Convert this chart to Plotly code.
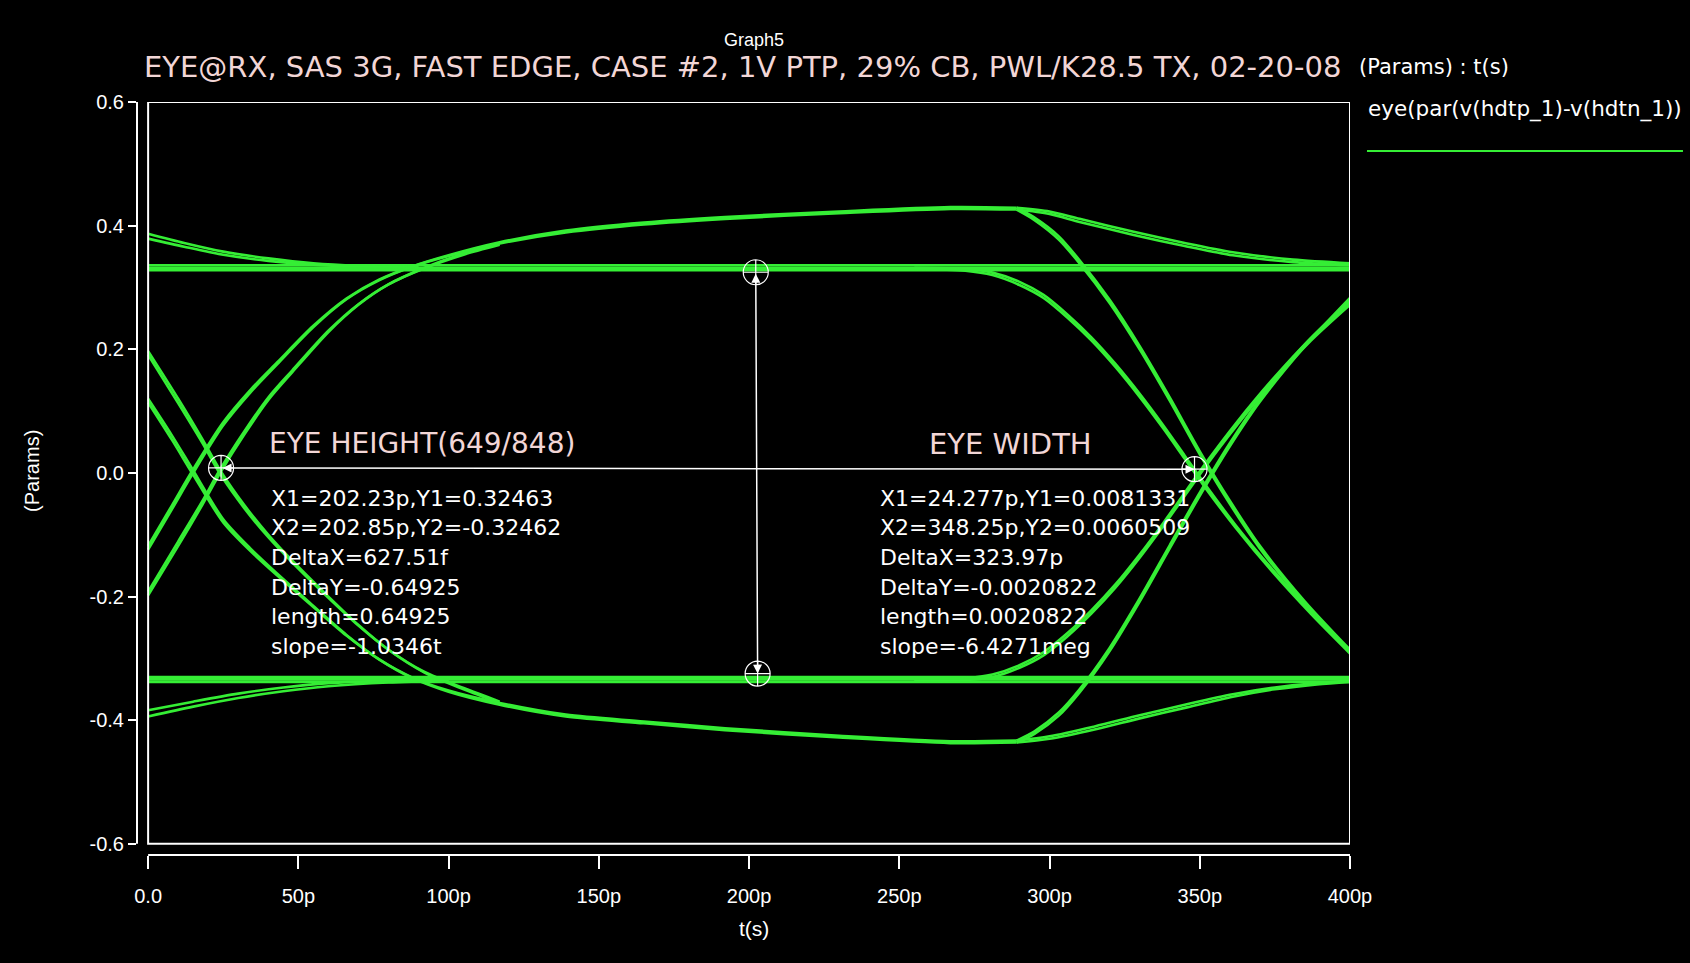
import plotly.graph_objects as go

# ---- data (t in ps, v in volts) ----
t_flat = [0, 400]
v_high_flat_a = [0.336, 0.336]
v_high_flat_b = [0.332, 0.332]
v_high_flat_c = [0.328, 0.328]
v_low_flat_a = [-0.330, -0.330]
v_low_flat_b = [-0.334, -0.334]
v_low_flat_c = [-0.338, -0.338]

t_high_decay = [0, 12, 25, 40, 55, 70, 90]
v_high_decay_a = [0.387, 0.372, 0.358, 0.347, 0.339, 0.335, 0.333]
v_high_decay_b = [0.379, 0.366, 0.353, 0.343, 0.337, 0.334, 0.332]

t_low_decay = [0, 15, 30, 45, 60, 80, 100]
v_low_decay_a = [-0.384, -0.370, -0.357, -0.347, -0.340, -0.336, -0.334]
v_low_decay_b = [-0.394, -0.378, -0.364, -0.353, -0.345, -0.339, -0.336]

t_edge_early = [0, 8, 15, 25, 34, 43, 55, 66, 77, 88, 100, 117, 139, 165, 192, 230, 267, 289]
v_rise_early_a = [-0.124, -0.058, 0.0, 0.077, 0.130, 0.176, 0.236, 0.281, 0.312, 0.334, 0.352,
                  0.373, 0.392, 0.405, 0.414, 0.423, 0.430, 0.429]
v_rise_early_b = [-0.118, -0.052, 0.006, 0.082, 0.134, 0.179, 0.238, 0.282, 0.313, 0.334, 0.351,
                  0.371, 0.389, 0.402, 0.411, 0.420, 0.427, 0.426]
v_fall_early_a = [0.120, 0.060, 0.004, -0.075, -0.122, -0.163, -0.215, -0.262, -0.302, -0.332, -0.354,
                  -0.375, -0.394, -0.405, -0.416, -0.428, -0.437, -0.436]
v_fall_early_b = [0.114, 0.053, -0.003, -0.080, -0.126, -0.166, -0.217, -0.263, -0.302, -0.331, -0.352,
                  -0.372, -0.391, -0.402, -0.413, -0.425, -0.434, -0.433]

t_edge_late = [0, 10, 18, 24, 32, 40, 48, 60, 70, 80, 92, 105, 117]
v_rise_late_a = [-0.198, -0.118, -0.052, 0.0, 0.062, 0.118, 0.163, 0.228, 0.272, 0.305, 0.332, 0.355, 0.371]
v_rise_late_b = [-0.192, -0.111, -0.046, 0.006, 0.067, 0.122, 0.166, 0.230, 0.273, 0.305, 0.331, 0.353, 0.369]
v_fall_late_a = [0.197, 0.120, 0.055, 0.004, -0.052, -0.100, -0.142, -0.200, -0.246, -0.286, -0.323, -0.350, -0.372]
v_fall_late_b = [0.191, 0.113, 0.049, -0.002, -0.057, -0.104, -0.145, -0.202, -0.247, -0.286, -0.322, -0.348, -0.370]

t_stay_high = [289, 300, 310, 328, 345, 361, 381, 400]
v_stay_high_a = [0.429, 0.423, 0.411, 0.390, 0.372, 0.357, 0.345, 0.339]
v_stay_high_b = [0.426, 0.419, 0.406, 0.385, 0.367, 0.352, 0.341, 0.336]

t_stay_low = [289, 300, 315, 330, 345, 361, 375, 389, 400]
v_stay_low_a = [-0.436, -0.430, -0.415, -0.397, -0.380, -0.362, -0.350, -0.342, -0.338]
v_stay_low_b = [-0.433, -0.426, -0.410, -0.392, -0.375, -0.358, -0.347, -0.340, -0.336]

t_steep = [289, 295, 303, 310, 320, 330, 340, 350, 360, 370, 385, 400]
v_fall_steep_a = [0.429, 0.413, 0.383, 0.344, 0.280, 0.205, 0.122, 0.035, -0.045, -0.118, -0.208, -0.286]
v_fall_steep_b = [0.426, 0.409, 0.378, 0.339, 0.275, 0.200, 0.117, 0.030, -0.050, -0.122, -0.212, -0.290]
v_rise_steep_a = [-0.436, -0.422, -0.393, -0.355, -0.288, -0.208, -0.122, -0.037, 0.043, 0.115, 0.205, 0.283]
v_rise_steep_b = [-0.433, -0.418, -0.388, -0.350, -0.283, -0.203, -0.117, -0.032, 0.048, 0.119, 0.208, 0.279]

t_gentle = [255, 272, 281, 290, 298, 306, 314, 322, 330, 338, 345, 352, 362, 374, 387, 400]
v_fall_gentle_a = [0.332, 0.330, 0.324, 0.309, 0.288, 0.256, 0.219, 0.176, 0.128, 0.076, 0.028, -0.020,
                   -0.085, -0.155, -0.225, -0.290]
v_fall_gentle_b = [0.330, 0.327, 0.320, 0.304, 0.283, 0.251, 0.214, 0.171, 0.123, 0.071, 0.023, -0.025,
                   -0.089, -0.159, -0.228, -0.292]
v_rise_gentle_a = [-0.334, -0.332, -0.326, -0.311, -0.290, -0.259, -0.222, -0.180, -0.132, -0.080, -0.032,
                   0.016, 0.080, 0.150, 0.218, 0.276]
v_rise_gentle_b = [-0.337, -0.335, -0.330, -0.315, -0.295, -0.264, -0.227, -0.185, -0.137, -0.085, -0.037,
                   0.011, 0.075, 0.146, 0.214, 0.272]

# eye measurement cursors
height_x = [202.23, 202.85]
height_y = [0.32463, -0.32462]
width_x = [24.277, 348.25]
width_y = [0.0081331, 0.0060509]

height_lines = ["X1=202.23p,Y1=0.32463", "X2=202.85p,Y2=-0.32462", "DeltaX=627.51f",
                "DeltaY=-0.64925", "length=0.64925", "slope=-1.0346t"]
width_lines = ["X1=24.277p,Y1=0.0081331", "X2=348.25p,Y2=0.0060509", "DeltaX=323.97p",
               "DeltaY=-0.0020822", "length=0.0020822", "slope=-6.4271meg"]

x_ticks = [0, 50, 100, 150, 200, 250, 300, 350, 400]
x_tick_text = ["0.0", "50p", "100p", "150p", "200p", "250p", "300p", "350p", "400p"]
y_ticks = [0.6, 0.4, 0.2, 0.0, -0.2, -0.4, -0.6]
y_tick_text = ["0.6", "0.4", "0.2", "0.0", "-0.2", "-0.4", "-0.6"]

GREEN = "#35ee35"
PINK = "#f2d6d6"
FONT = "Liberation Sans"
WIDE = "DejaVu Sans"

fig = go.Figure()

segments = [
    (t_flat, v_high_flat_a), (t_flat, v_high_flat_b), (t_flat, v_high_flat_c),
    (t_flat, v_low_flat_a), (t_flat, v_low_flat_b), (t_flat, v_low_flat_c),
    (t_high_decay, v_high_decay_a), (t_high_decay, v_high_decay_b),
    (t_low_decay, v_low_decay_a), (t_low_decay, v_low_decay_b),
    (t_edge_early, v_rise_early_a), (t_edge_early, v_rise_early_b),
    (t_edge_early, v_fall_early_a), (t_edge_early, v_fall_early_b),
    (t_edge_late, v_rise_late_a), (t_edge_late, v_rise_late_b),
    (t_edge_late, v_fall_late_a), (t_edge_late, v_fall_late_b),
    (t_stay_high, v_stay_high_a), (t_stay_high, v_stay_high_b),
    (t_stay_low, v_stay_low_a), (t_stay_low, v_stay_low_b),
    (t_steep, v_fall_steep_a), (t_steep, v_fall_steep_b),
    (t_steep, v_rise_steep_a), (t_steep, v_rise_steep_b),
    (t_gentle, v_fall_gentle_a), (t_gentle, v_fall_gentle_b),
    (t_gentle, v_rise_gentle_a), (t_gentle, v_rise_gentle_b),
]
for t, v in segments:
    fig.add_trace(go.Scatter(x=t, y=v, mode='lines', showlegend=False, hoverinfo='skip',
                             line=dict(color=GREEN, width=2.6, shape='spline', smoothing=0.8)))

# cursor circles
fig.add_trace(go.Scatter(
    x=height_x + width_x, y=height_y + width_y, mode='markers', showlegend=False, hoverinfo='skip',
    marker=dict(symbol='circle-cross-open', size=25, color='white', line=dict(width=1.2, color='white'))
))

# frame box
fig.add_shape(type='rect', x0=0, x1=400, y0=-0.6, y1=0.6, xref='x', yref='y',
              line=dict(color='white', width=2))
# detached axis lines
fig.add_shape(type='line', x0=0, x1=400, y0=0, y1=0, xref='x', yref='y domain',
              line=dict(color='white', width=2))
fig.add_shape(type='line', x0=0, x1=0, y0=-0.6, y1=0.6, xref='x domain', yref='y',
              line=dict(color='white', width=2))

# measurement arrows
fig.add_annotation(x=height_x[1], y=height_y[1], ax=height_x[0], ay=height_y[0], xref='x', yref='y',
                   axref='x', ayref='y', text='', showarrow=True, arrowside='end+start',
                   arrowhead=2, arrowsize=1.2, arrowwidth=1.5, arrowcolor='white')
fig.add_annotation(x=width_x[1], y=width_y[1], ax=width_x[0], ay=width_y[0], xref='x', yref='y',
                   axref='x', ayref='y', text='', showarrow=True, arrowside='end+start',
                   arrowhead=2, arrowsize=1.2, arrowwidth=1.5, arrowcolor='white')

# labels over the eye
fig.add_annotation(x=39.5, y=0.047, xref='x', yref='y', xanchor='left', yanchor='middle',
                   text="EYE HEIGHT(649/848)", showarrow=False, font=dict(size=28, color=PINK, family=WIDE))
fig.add_annotation(x=287, y=0.047, xref='x', yref='y', xanchor='center', yanchor='middle',
                   text="EYE WIDTH", showarrow=False, font=dict(size=29, color=PINK, family=WIDE))
for i, (lt, rt) in enumerate(zip(height_lines, width_lines)):
    yy = -0.041 - i * 0.048
    fig.add_annotation(x=40.3, y=yy, xref='x', yref='y', xanchor='left', yanchor='middle',
                       text=lt, showarrow=False, font=dict(size=22, color='white', family=WIDE))
    fig.add_annotation(x=243, y=yy, xref='x', yref='y', xanchor='left', yanchor='middle',
                       text=rt, showarrow=False, font=dict(size=22, color='white', family=WIDE))

# titles
fig.add_annotation(x=0.5087, y=1.0823, xref='paper', yref='paper', xanchor='center', yanchor='middle',
                   text="Graph5", showarrow=False, font=dict(size=18, color='white', family=FONT))
fig.add_annotation(x=0.004, y=1.0465, xref='paper', yref='paper', xanchor='left', yanchor='middle',
                   text="EYE@RX, SAS 3G, FAST EDGE, CASE #2, 1V PTP, 29% CB, PWL/K28.5 TX, 02-20-08",
                   showarrow=False, font=dict(size=29, color=PINK, family=WIDE))
fig.add_annotation(x=1.006, y=1.0465, xref='paper', yref='paper', xanchor='left', yanchor='middle',
                   text="(Params) : t(s)", showarrow=False, font=dict(size=21, color='white', family=WIDE))
fig.add_annotation(x=1.013, y=0.9907, xref='paper', yref='paper', xanchor='left', yanchor='middle',
                   text="eye(par(v(hdtp_1)-v(hdtn_1))", showarrow=False,
                   font=dict(size=21.5, color='white', family=WIDE))
fig.add_shape(type='line', x0=1.014, x1=1.2745, y0=0.935, y1=0.935, xref='paper', yref='paper',
              line=dict(color=GREEN, width=2))
fig.add_annotation(x=-0.0866, y=0.51, xref='paper', yref='paper', xanchor='center', yanchor='middle',
                   text="(Params)", textangle=-90, showarrow=False,
                   font=dict(size=20, color='white', family=FONT))
fig.add_annotation(x=0.5087, y=-0.098, xref='paper', yref='paper', xanchor='center', yanchor='middle',
                   text="t(s)", showarrow=False, font=dict(size=21, color='white', family=FONT))

fig.update_layout(
    width=1690, height=963,
    margin=dict(l=137, r=340, t=102, b=108),
    paper_bgcolor='black', plot_bgcolor='black',
    font=dict(family=FONT, color='white', size=20),
    xaxis=dict(range=[-3.7, 400], showgrid=False, zeroline=False, showline=False,
               tickvals=x_ticks, ticktext=x_tick_text, ticks='outside', ticklen=13, tickwidth=2,
               tickcolor='white', ticklabelstandoff=10, tickfont=dict(size=20, color='white')),
    yaxis=dict(range=[-0.618, 0.6], showgrid=False, zeroline=False, showline=False,
               tickvals=y_ticks, ticktext=y_tick_text, ticks='outside', ticklen=8, tickwidth=2,
               tickcolor='white', tickfont=dict(size=20, color='white')),
)

fig.write_html("out.html", config={'displayModeBar': False},
               post_script="document.body.style.margin='0';"
                           "document.body.style.background='black';")
